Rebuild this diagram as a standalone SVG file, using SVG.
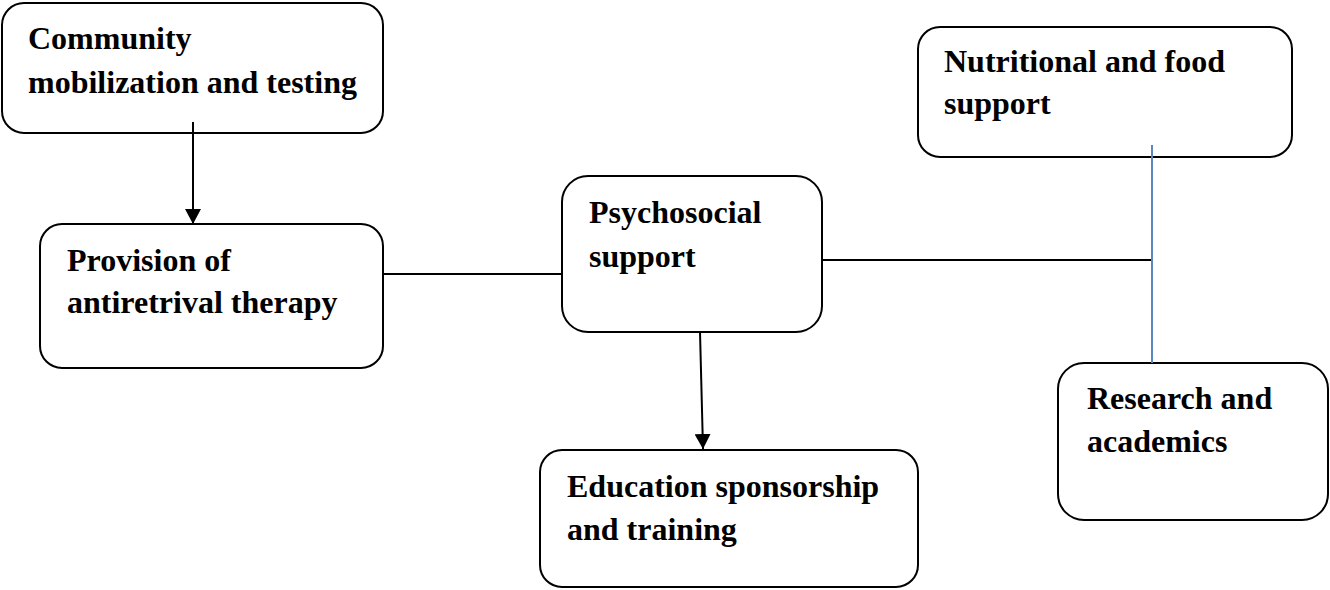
<svg xmlns="http://www.w3.org/2000/svg" width="1330" height="590" viewBox="0 0 1330 590">
<style>
.box{fill:#fff;stroke:#000;stroke-width:2}
.t{font-family:"Liberation Serif","Times New Roman",serif;font-weight:bold;font-size:32px;fill:#000}
.c{stroke:#000;stroke-width:2;fill:none}
</style>
<defs>
<marker id="ah" viewBox="0 0 15 16" refX="15" refY="8" markerWidth="15" markerHeight="16" markerUnits="userSpaceOnUse" orient="auto">
<path d="M0,0 L15,8 L0,16 Z" fill="#000"/>
</marker>
</defs>
<g id="n1">
<rect class="box" x="2" y="3" width="381" height="130" rx="22"/>
<text class="t" x="28" y="49">Community</text>
<text class="t" x="28" y="93">mobilization and testing</text>
</g>
<g id="n2">
<rect class="box" x="40" y="224" width="343" height="144" rx="22"/>
<text class="t" x="67" y="271">Provision of</text>
<text class="t" x="67" y="313">antiretrival therapy</text>
</g>
<g id="n3">
<rect class="box" x="562" y="176" width="260" height="156" rx="26"/>
<text class="t" x="589" y="223">Psychosocial</text>
<text class="t" x="589" y="267">support</text>
</g>
<g id="n4">
<rect class="box" x="540" y="450" width="378" height="137" rx="22"/>
<text class="t" x="567" y="497">Education sponsorship</text>
<text class="t" x="567" y="540">and training</text>
</g>
<g id="n5">
<rect class="box" x="918" y="27" width="374" height="130" rx="22"/>
<text class="t" x="944" y="72">Nutritional and food</text>
<text class="t" x="944" y="114">support</text>
</g>
<g id="n6">
<rect class="box" x="1058" y="363" width="270" height="157" rx="26"/>
<text class="t" x="1087" y="409">Research and</text>
<text class="t" x="1087" y="452">academics</text>
</g>
<g id="connectors">
<line class="c" x1="193" y1="122" x2="193" y2="224" marker-end="url(#ah)"/>
<line class="c" x1="383" y1="274" x2="562" y2="274"/>
<line class="c" x1="700" y1="332" x2="703" y2="449" marker-end="url(#ah)"/>
<line class="c" x1="822" y1="260" x2="1152" y2="260"/>
<line x1="1152" y1="145" x2="1152" y2="363" stroke="#5b87c0" stroke-width="2"/>
</g>
</svg>
